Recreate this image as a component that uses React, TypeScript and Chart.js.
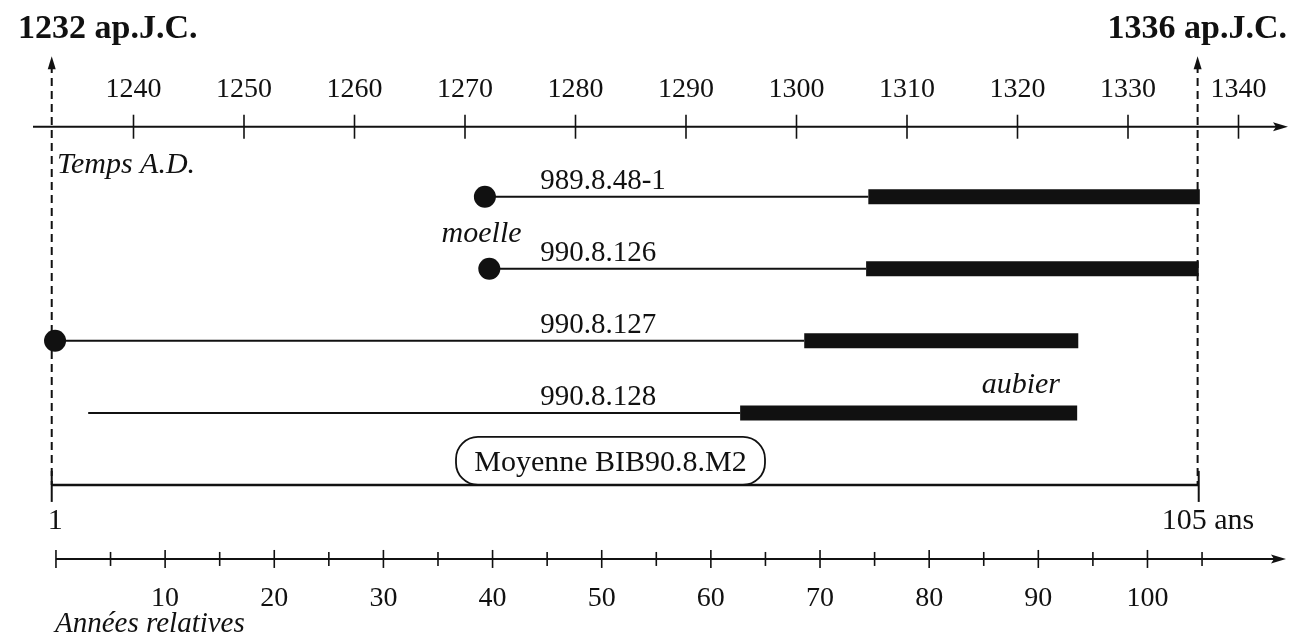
import React, { useEffect, useRef } from "react";
import { Chart, registerables } from "chart.js";

Chart.register(...registerables);

// ---------- data ----------
const calendarTicks = [1240, 1250, 1260, 1270, 1280, 1290, 1300, 1310, 1320, 1330, 1340];
const relativeLabelTicks = [10, 20, 30, 40, 50, 60, 70, 80, 90, 100];
const relativeMarkTicks = [0, 5, 10, 15, 20, 25, 30, 35, 40, 45, 50, 55, 60, 65, 70, 75, 80, 85, 90, 95, 100, 105];

const sampleNames = ["989.8.48-1", "990.8.126", "990.8.127", "990.8.128"];
const pithYears: (number | null)[] = [1271.8, 1272.2, 1232.9, null];
const firstRingYears = [1271.8, 1272.2, 1232.9, 1235.9];
const sapwoodStartYears = [1306.5, 1306.3, 1300.7, 1294.9];
const lastRingYears = [1336.5, 1336.4, 1325.5, 1325.4];

const meanName = "Moyenne BIB90.8.M2";
const meanYears = [1232.6, 1336.4];
const meanEndLabels = ["1", "105 ans"];

const boundYears = [1232.6, 1336.3];
const boundLabels = ["1232 ap.J.C.", "1336 ap.J.C."];

const INK = "#111111";
const SERIF = "'Liberation Serif', 'Times New Roman', serif";

// lanes: 0 = calendar axis, 1..4 = samples, 5 = mean, 6 = relative axis
const LANE_TOP_AXIS = 0;
const LANE_MEAN = 5;
const LANE_BOTTOM_AXIS = 6;
const LANE_BOUND_TOP = -0.95;

function buildDatasets() {
  const ds: any[] = [];
  ds.push({
    label: "moelle",
    data: pithYears
      .map((yr, i) => (yr == null ? null : { x: yr, y: i + 1 }))
      .filter((p) => p !== null),
    showLine: false,
    pointRadius: 11,
    pointBackgroundColor: INK,
    pointBorderWidth: 0,
    xAxisID: "x",
    yAxisID: "y",
    clip: false,
  });
  sampleNames.forEach((name, i) => {
    ds.push({
      label: name + " duramen",
      data: [
        { x: firstRingYears[i], y: i + 1 },
        { x: sapwoodStartYears[i], y: i + 1 },
      ],
      showLine: true,
      borderColor: INK,
      borderWidth: 2,
      pointRadius: 0,
      xAxisID: "x",
      yAxisID: "y",
      clip: false,
    });
    ds.push({
      label: name + " aubier",
      data: [
        { x: sapwoodStartYears[i], y: i + 1 },
        { x: lastRingYears[i], y: i + 1 },
      ],
      showLine: true,
      borderColor: INK,
      borderWidth: 15,
      borderCapStyle: "butt",
      pointRadius: 0,
      xAxisID: "x",
      yAxisID: "y",
      clip: false,
    });
  });
  ds.push({
    label: meanName,
    data: [
      { x: meanYears[0], y: LANE_MEAN },
      { x: meanYears[1], y: LANE_MEAN },
    ],
    showLine: true,
    borderColor: INK,
    borderWidth: 2.5,
    pointRadius: 0,
    xAxisID: "x",
    yAxisID: "y",
    clip: false,
  });
  boundYears.forEach((yr, i) => {
    ds.push({
      label: boundLabels[i],
      data: [
        { x: yr, y: LANE_BOUND_TOP + 0.12 },
        { x: yr, y: LANE_MEAN },
      ],
      showLine: true,
      borderColor: INK,
      borderWidth: 2,
      borderDash: [8, 5],
      borderCapStyle: "butt",
      pointRadius: 0,
      xAxisID: "x",
      yAxisID: "y",
      clip: false,
    });
  });
  return ds;
}

function arrowRight(ctx: CanvasRenderingContext2D, tipX: number, y: number) {
  ctx.beginPath();
  ctx.moveTo(tipX, y);
  ctx.lineTo(tipX - 15, y - 4.5);
  ctx.lineTo(tipX - 12, y);
  ctx.lineTo(tipX - 15, y + 4.5);
  ctx.closePath();
  ctx.fill();
}

function arrowUp(ctx: CanvasRenderingContext2D, x: number, tipY: number) {
  ctx.beginPath();
  ctx.moveTo(x, tipY);
  ctx.lineTo(x - 4, tipY + 13);
  ctx.lineTo(x + 4, tipY + 13);
  ctx.closePath();
  ctx.fill();
}

const overlayPlugin = {
  id: "dendroOverlay",
  afterDatasetsDraw(chart: any) {
    const ctx: CanvasRenderingContext2D = chart.ctx;
    const xs = chart.scales.x;
    const xr = chart.scales.x2;
    const ys = chart.scales.y;
    ctx.save();
    ctx.fillStyle = INK;
    ctx.strokeStyle = INK;

    // ----- calendar axis (top) -----
    const yTop = ys.getPixelForValue(LANE_TOP_AXIS) + 2;
    ctx.lineWidth = 2;
    ctx.beginPath();
    ctx.moveTo(33, yTop);
    ctx.lineTo(1276, yTop);
    ctx.stroke();
    arrowRight(ctx, 1288, yTop);
    ctx.lineWidth = 1.6;
    ctx.font = `28px ${SERIF}`;
    ctx.textAlign = "center";
    ctx.textBaseline = "alphabetic";
    calendarTicks.forEach((t) => {
      const px = xs.getPixelForValue(t);
      ctx.beginPath();
      ctx.moveTo(px, yTop - 12);
      ctx.lineTo(px, yTop + 12);
      ctx.stroke();
      ctx.fillText(String(t), px, yTop - 30);
    });
    ctx.font = `italic 30px ${SERIF}`;
    ctx.textAlign = "left";
    ctx.fillText("Temps A.D.", 57, yTop + 46);

    // ----- bound labels + arrows -----
    const yBoundTip = ys.getPixelForValue(LANE_BOUND_TOP);
    ctx.font = `bold 34px ${SERIF}`;
    boundYears.forEach((yr, i) => {
      const px = xs.getPixelForValue(yr);
      arrowUp(ctx, px, yBoundTip);
      ctx.textAlign = i === 0 ? "left" : "right";
      ctx.fillText(boundLabels[i], i === 0 ? 18 : 1287, 38);
    });

    // ----- sample labels -----
    ctx.font = `29px ${SERIF}`;
    ctx.textAlign = "left";
    sampleNames.forEach((name, i) => {
      const py = ys.getPixelForValue(i + 1);
      ctx.fillText(name, xs.getPixelForValue(1276.8), py - 8);
    });
    ctx.font = `italic 30px ${SERIF}`;
    ctx.textAlign = "center";
    ctx.fillText("moelle", xs.getPixelForValue(1271.5), ys.getPixelForValue(1.5) + 9);
    ctx.fillText("aubier", xs.getPixelForValue(1320.3), ys.getPixelForValue(4) - 20);

    // ----- mean row -----
    const yMean = ys.getPixelForValue(LANE_MEAN);
    ctx.lineWidth = 2;
    meanYears.forEach((yr) => {
      const px = xs.getPixelForValue(yr);
      ctx.beginPath();
      ctx.moveTo(px, yMean - 14);
      ctx.lineTo(px, yMean + 17);
      ctx.stroke();
    });
    ctx.font = `30px ${SERIF}`;
    ctx.textAlign = "left";
    ctx.fillText(meanEndLabels[0], xs.getPixelForValue(meanYears[0]) - 4, yMean + 44);
    ctx.fillText(meanEndLabels[1], xs.getPixelForValue(meanYears[1]) - 37, yMean + 44);

    // rounded label box
    const bx0 = 456, bx1 = 765, by0 = yMean - 48, by1 = yMean;
    const r = 22;
    ctx.lineWidth = 1.8;
    ctx.beginPath();
    ctx.moveTo(bx0 + r, by0);
    ctx.lineTo(bx1 - r, by0);
    ctx.arcTo(bx1, by0, bx1, by0 + r, r);
    ctx.arcTo(bx1, by1, bx1 - r, by1, r);
    ctx.moveTo(bx0 + r, by1);
    ctx.arcTo(bx0, by1, bx0, by1 - r, r);
    ctx.arcTo(bx0, by0, bx0 + r, by0, r);
    ctx.stroke();
    ctx.font = `30px ${SERIF}`;
    ctx.textAlign = "center";
    ctx.fillText(meanName, (bx0 + bx1) / 2, yMean - 14);

    // ----- relative axis (bottom) -----
    const yBot = ys.getPixelForValue(LANE_BOTTOM_AXIS) + 2;
    ctx.lineWidth = 2;
    ctx.beginPath();
    ctx.moveTo(xr.getPixelForValue(0), yBot);
    ctx.lineTo(1274, yBot);
    ctx.stroke();
    arrowRight(ctx, 1286, yBot);
    ctx.lineWidth = 1.6;
    relativeMarkTicks.forEach((t) => {
      const px = xr.getPixelForValue(t);
      const len = t % 10 === 0 ? 9 : 7;
      ctx.beginPath();
      ctx.moveTo(px, yBot - len);
      ctx.lineTo(px, yBot + len);
      ctx.stroke();
    });
    ctx.font = `28px ${SERIF}`;
    ctx.textAlign = "center";
    relativeLabelTicks.forEach((t) => {
      ctx.fillText(String(t), xr.getPixelForValue(t), yBot + 47);
    });
    ctx.font = `italic 29px ${SERIF}`;
    ctx.textAlign = "left";
    ctx.fillText("Années relatives", 55, yBot + 73);

    ctx.restore();
  },
};

export default function App() {
  const canvasRef = useRef<HTMLCanvasElement | null>(null);

  useEffect(() => {
    const canvas = canvasRef.current;
    if (!canvas) return;
    const chart = new Chart(canvas, {
      type: "scatter",
      data: { datasets: buildDatasets() },
      options: {
        animation: false,
        responsive: false,
        events: [],
        layout: { padding: { left: 23, right: 56.5, top: 16.66, bottom: 7.7 } },
        plugins: { legend: { display: false }, tooltip: { enabled: false } },
        scales: {
          x: { type: "linear", min: 1230, max: 1340, display: false },
          x2: { type: "linear", min: -3.02, max: 108.34, display: false },
          y: { type: "linear", min: -1.5, max: 7, reverse: true, display: false },
        },
      },
      plugins: [overlayPlugin],
    } as any);
    return () => chart.destroy();
  }, []);

  return (
    <div style={{ position: "fixed", left: 0, top: 0, width: 1295, height: 640, background: "#fff" }}>
      <canvas ref={canvasRef} width={1295} height={640} style={{ display: "block" }} />
    </div>
  );
}
